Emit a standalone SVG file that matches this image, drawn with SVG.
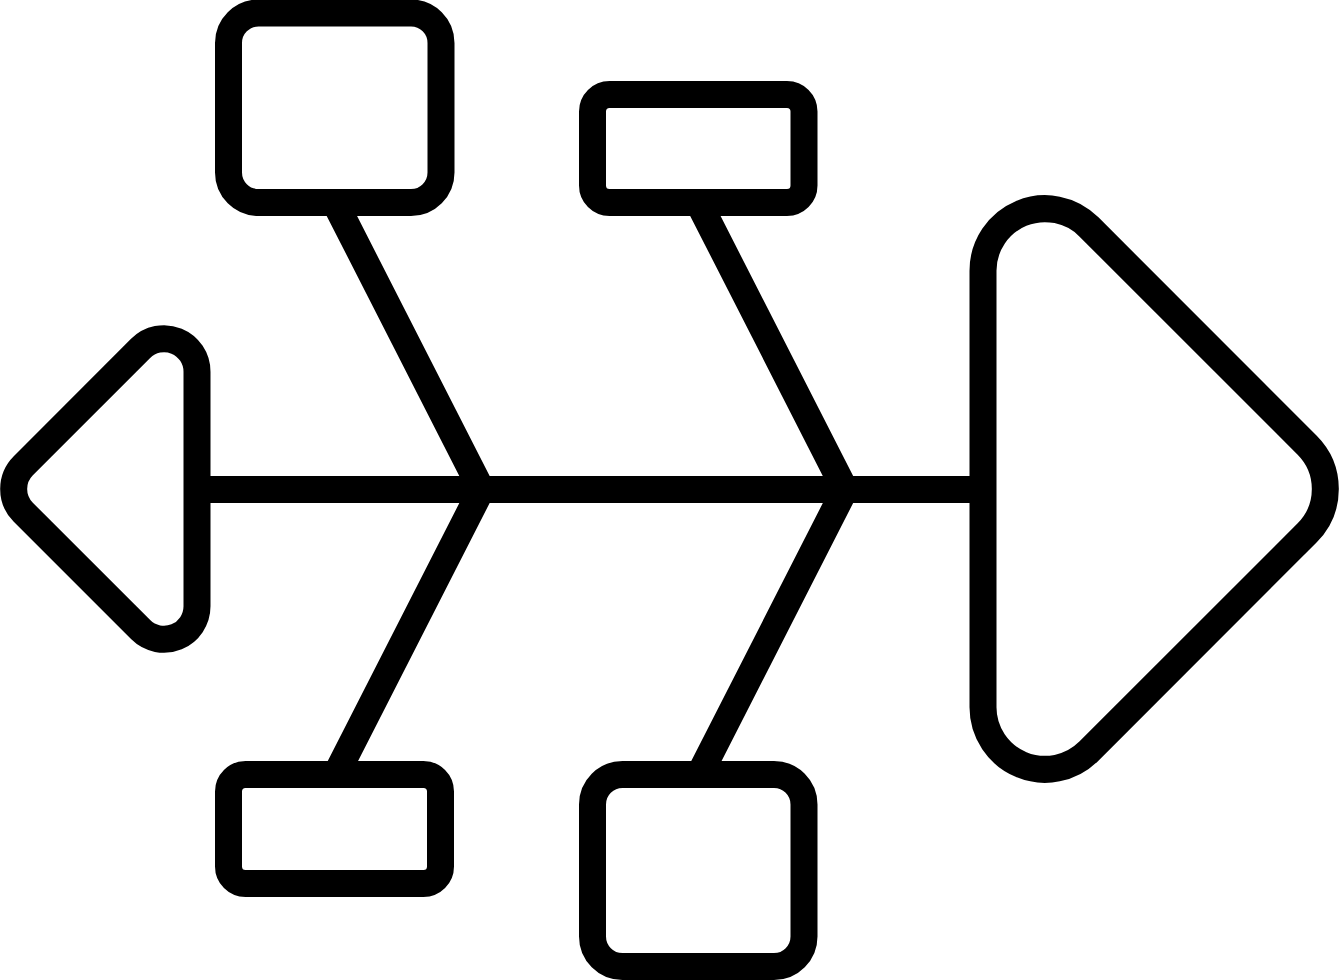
<svg xmlns="http://www.w3.org/2000/svg" width="1339" height="980" viewBox="0 0 1339 980">
<style>
.s{fill:none;stroke:#000;stroke-width:27;stroke-linejoin:round}
.c{fill:none;stroke:#000;stroke-width:27;stroke-linejoin:miter;stroke-miterlimit:10}
</style>
<rect width="1339" height="980" fill="#fff"/>
<g id="connectors">
<line class="c" x1="197" y1="489.5" x2="983" y2="489.5"/>
<polyline class="c" points="335,202.5 481.4,489.5 335,776.5"/>
<polyline class="c" points="698.5,202.5 844.9,489.5 698.5,776.5"/>
</g>
<g id="tail"><path class="s" d="M197,371.7 L197,606.3 A33 33 0 0 1 140.6,629.6 L23.3,512.3 A33 33 0 0 1 23.3,465.7 L140.6,348.4 A33 33 0 0 1 197,371.7 Z"/></g>
<g id="head"><path class="s" d="M983,707.3 L983,270.7 A62 62 0 0 1 1088.9,226.9 L1307.2,445.2 A62 62 0 0 1 1307.2,532.8 L1088.9,751.1 A62 62 0 0 1 983,707.3 Z"/></g>
<g id="box-top-left"><rect class="s" x="228.5" y="13" width="212.5" height="189.5" rx="30"/></g>
<g id="box-top-mid"><rect class="s" x="592.5" y="94.5" width="211.5" height="108" rx="17"/></g>
<g id="box-bottom-left"><rect class="s" x="228.5" y="774.5" width="212" height="109" rx="17"/></g>
<g id="box-bottom-mid"><rect class="s" x="592.5" y="774.5" width="211.5" height="192" rx="30"/></g>
</svg>
